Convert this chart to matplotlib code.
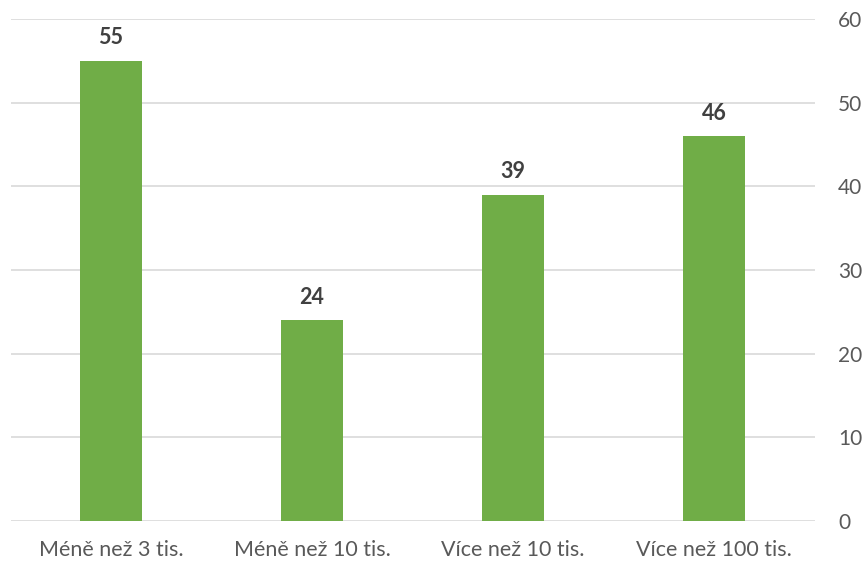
import matplotlib
matplotlib.use("Agg")
import matplotlib.pyplot as plt

categories = ["Méně než 3 tis.", "Méně než 10 tis.", "Více než 10 tis.", "Více než 100 tis."]
values = [55, 24, 39, 46]
yticks = [0, 10, 20, 30, 40, 50, 60]

plt.rcParams['font.family'] = ['Lato', 'DejaVu Sans']

fig = plt.figure(figsize=(8.64, 5.62), dpi=100)
ax = fig.add_axes([10.5/864, 1-521/562, 804/864, 502/562])

x = range(len(categories))
bars = ax.bar(x, values, width=0.31, color="#70AD47", zorder=3)
for xi, v in zip(x, values):
    ax.annotate(str(v), (xi, v), xytext=(0, 9), textcoords="offset points",
                ha="center", va="bottom", fontsize=15.5, fontweight="bold", color="#404040")

ax.set_xlim(-0.5, len(categories) - 0.5)
ax.set_ylim(0, 60)
ax.set_yticks(yticks)
ax.yaxis.tick_right()
ax.tick_params(axis="y", length=0, pad=17, labelsize=15, labelcolor="#595959")
ax.tick_params(axis="x", length=0, pad=14, labelsize=15.5, labelcolor="#595959")
ax.set_xticks(list(x))
ax.set_xticklabels(categories)
ax.grid(axis="y", color="#D9D9D9", linewidth=1.2, zorder=0)
for s in ax.spines.values():
    s.set_visible(False)

fig.savefig("out.png", dpi=100)
